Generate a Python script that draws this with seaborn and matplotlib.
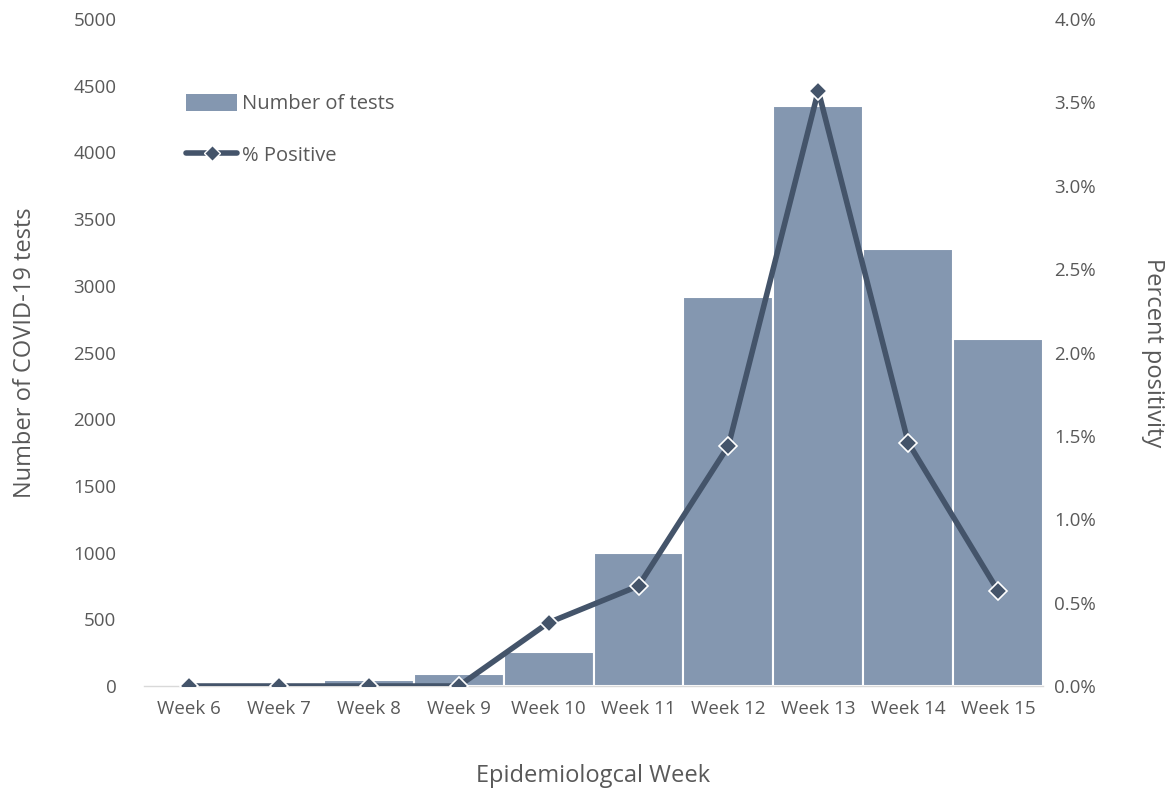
import numpy as np
import pandas as pd
import matplotlib
matplotlib.use("Agg")
import matplotlib.pyplot as plt
import seaborn as sns
from matplotlib.ticker import FuncFormatter, MultipleLocator
from matplotlib.lines import Line2D
from matplotlib.patches import Patch

weeks = ["Week 6", "Week 7", "Week 8", "Week 9", "Week 10",
         "Week 11", "Week 12", "Week 13", "Week 14", "Week 15"]
tests = [3, 5, 45, 90, 255, 995, 2915, 4345, 3275, 2600]
pct_positive = [0.0, 0.0, 0.0, 0.0, 0.38, 0.60, 1.44, 3.57, 1.46, 0.57]

bar_color = "#8497B0"
line_color = "#44546A"
text_color = "#595959"

sns.set_theme(style="white")
plt.rcParams["font.family"] = ["Open Sans", "DejaVu Sans"]

df = pd.DataFrame({"week": weeks, "tests": tests, "pct": pct_positive,
                   "pos": np.arange(len(weeks))})

fig = plt.figure(figsize=(11.75, 7.96), dpi=100)
ax = fig.add_axes([0.1226, 0.1382, 0.7651, 0.8379])

sns.barplot(data=df, x="week", y="tests", order=weeks, color=bar_color,
            saturation=1, width=1.0, edgecolor="white", linewidth=1.5, ax=ax)
ax.set_xlim(-0.5, len(weeks) - 0.5)
ax.set_ylim(0, 5000)
ax.yaxis.set_major_locator(MultipleLocator(500))

ax2 = ax.twinx()
sns.lineplot(data=df, x="pos", y="pct", ax=ax2, color=line_color, linewidth=4,
             marker="D", markersize=9, markeredgecolor="white",
             markeredgewidth=1.2, markerfacecolor=line_color)
ax2.set_ylim(0, 4.0)
ax2.yaxis.set_major_locator(MultipleLocator(0.5))
ax2.yaxis.set_major_formatter(FuncFormatter(lambda v, _: f"{v:.1f}%"))
ax2.set_xlim(-0.5, len(weeks) - 0.5)

for a in (ax, ax2):
    for s in a.spines.values():
        s.set_visible(False)
    a.tick_params(length=0, labelsize=13.5, labelcolor=text_color)
    a.grid(False)
ax.spines["bottom"].set_visible(True)
ax.spines["bottom"].set_color("#D9D9D9")
ax.spines["bottom"].set_linewidth(1)

ax.tick_params(axis="x", pad=10)
ax.tick_params(axis="y", pad=20)
ax2.tick_params(axis="y", pad=8)

ax.set_xlabel("Epidemiologcal Week", fontsize=17, color=text_color, labelpad=33)
ax.set_ylabel("Number of COVID-19 tests", fontsize=17, color=text_color, labelpad=26)
ax2.set_ylabel("Percent positivity", fontsize=17, color=text_color,
               rotation=270, labelpad=50)

handles = [Patch(facecolor=bar_color, edgecolor="none"),
           Line2D([0], [0], color=line_color, linewidth=4, marker="D",
                  markersize=8, markerfacecolor=line_color,
                  markeredgecolor="white")]
leg = ax.legend(handles, ["Number of tests", "% Positive"], loc="upper left",
                bbox_to_anchor=(0.027, 0.915), frameon=False, fontsize=14.5,
                labelspacing=1.55, handlelength=2.5, handleheight=0.9,
                handletextpad=0.25)
for t in leg.get_texts():
    t.set_color(text_color)

fig.savefig("out.png", dpi=100)
